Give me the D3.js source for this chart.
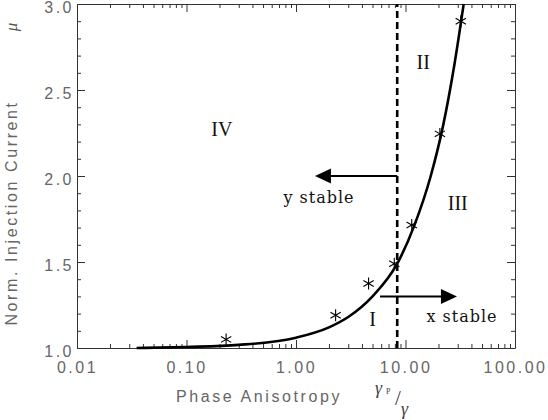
<!DOCTYPE html>
<html>
<head>
<meta charset="utf-8">
<script src="https://cdn.jsdelivr.net/npm/d3@7"></script>
<style>
  html, body { margin: 0; padding: 0; background: #fff; }
  svg { display: block; }
  .tick-label { font-family: "Liberation Sans", sans-serif; font-size: 16px; letter-spacing: 2.5px; fill: #666; }
  .axis-title { font-family: "Liberation Sans", sans-serif; font-size: 16px; letter-spacing: 2.6px; fill: #666; }
  .region { font-family: "Liberation Serif", serif; font-size: 20px; fill: #111; }
  .arrow-label { font-family: "DejaVu Serif", serif; font-size: 16px; letter-spacing: 1px; fill: #111; }
</style>
</head>
<body>
<svg id="chart" width="548" height="420"></svg>
<script>
// Stability boundary: normalised injection current vs. phase anisotropy gamma_p/gamma
const curveRatio = [0.035, 0.1, 0.3, 1, 2, 3, 5, 8.4, 12, 17, 22, 28, 34];
const curveMu    = [1.00, 1.006, 1.018, 1.06, 1.12, 1.18, 1.30, 1.49, 1.71, 2.00, 2.29, 2.65, 3.00];

// Measured points (asterisks)
const starRatio = [0.23, 2.3, 4.6, 7.9, 11.4, 20.6, 32];
const starMu    = [1.05, 1.19, 1.375, 1.49, 1.715, 2.245, 2.90];

// Vertical stability limit
const limitRatio = 8.4;

// Arrows: [from ratio, to ratio, mu]
const yStableArrow = [8.4, 1.49, 2.0];
const xStableArrow = [5.85, 29.5, 1.3];

// Axis ticks
const xTicks = [0.01, 0.1, 1, 10, 100];
const xTickLabels = ["0.01", "0.10", "1.00", "10.00", "100.00"];
const yTicks = [1.0, 1.5, 2.0, 2.5, 3.0];
const yTickLabels = ["1.0", "1.5", "2.0", "2.5", "3.0"];

// Region labels
const regionNames = ["IV", "II", "I", "III"];
const regionRatio = [0.21, 14.5, 5.0, 30];
const regionMu    = [2.235, 2.625, 1.13, 1.8];

const svg = d3.select("#chart");
const plotLeft = 77, plotRight = 515, plotTop = 4, plotBottom = 348;

const x = d3.scaleLog().domain([0.01, 100]).range([plotLeft, plotRight]);
const y = d3.scaleLinear().domain([1, 3]).range([plotBottom, plotTop]);

const minorX = [];
for (let e = -2; e < 2; e++) {
  for (let m = 2; m <= 9; m++) minorX.push(m * Math.pow(10, e));
}
const minorY = d3.range(1.0, 3.0001, 0.1).map(v => +v.toFixed(1)).filter(v => !yTicks.includes(v));

function styleAxis(g) {
  g.selectAll("path.domain").attr("stroke", "#333").attr("stroke-width", 1);
  g.selectAll(".tick line").attr("stroke", "#333").attr("stroke-width", 1);
}
function plainLabels(g) {
  g.selectAll("text").attr("class", "tick-label")
    .attr("font-size", null).attr("font-family", null).attr("fill", null);
}

// Bottom axis with labels
svg.append("g").attr("transform", `translate(0,${plotBottom})`)
  .call(d3.axisBottom(x).tickValues(xTicks).tickSizeInner(-8).tickSizeOuter(0).tickPadding(14)
    .tickFormat((d, i) => xTickLabels[i]))
  .call(styleAxis).call(plainLabels);
svg.append("g").attr("transform", `translate(0,${plotBottom})`)
  .call(d3.axisBottom(x).tickValues(minorX).tickSizeInner(-4).tickSizeOuter(0).tickFormat(""))
  .call(styleAxis).call(g => g.select(".domain").remove());

// Top axis
svg.append("g").attr("transform", `translate(0,${plotTop})`)
  .call(d3.axisTop(x).tickValues(xTicks).tickSizeInner(-8).tickSizeOuter(0).tickFormat(""))
  .call(styleAxis);
svg.append("g").attr("transform", `translate(0,${plotTop})`)
  .call(d3.axisTop(x).tickValues(minorX).tickSizeInner(-4).tickSizeOuter(0).tickFormat(""))
  .call(styleAxis).call(g => g.select(".domain").remove());

// Left axis with labels
svg.append("g").attr("transform", `translate(${plotLeft},0)`)
  .call(d3.axisLeft(y).tickValues(yTicks).tickSizeInner(-8).tickSizeOuter(0).tickPadding(3)
    .tickFormat((d, i) => yTickLabels[i]))
  .call(styleAxis).call(plainLabels)
  .call(g => g.selectAll("text").attr("dy", "0.55em"));
svg.append("g").attr("transform", `translate(${plotLeft},0)`)
  .call(d3.axisLeft(y).tickValues(minorY).tickSizeInner(-4).tickSizeOuter(0).tickFormat(""))
  .call(styleAxis).call(g => g.select(".domain").remove());

// Right axis
svg.append("g").attr("transform", `translate(${plotRight},0)`)
  .call(d3.axisRight(y).tickValues(yTicks).tickSizeInner(-8).tickSizeOuter(0).tickFormat(""))
  .call(styleAxis);
svg.append("g").attr("transform", `translate(${plotRight},0)`)
  .call(d3.axisRight(y).tickValues(minorY).tickSizeInner(-4).tickSizeOuter(0).tickFormat(""))
  .call(styleAxis).call(g => g.select(".domain").remove());

// Axis titles
svg.append("text").attr("class", "axis-title")
  .attr("x", 259).attr("y", 402).attr("text-anchor", "middle")
  .text("Phase Anisotropy");

const gam = svg.append("g").attr("font-family", "Liberation Serif, serif").attr("font-style", "italic").attr("fill", "#444");
gam.append("text").attr("x", 375).attr("y", 394).attr("font-size", 18).text("γ");
gam.append("text").attr("x", 386).attr("y", 394).attr("font-size", 8).attr("font-style", "normal").text("P");
gam.append("text").attr("x", 395).attr("y", 405).attr("font-size", 21).attr("font-style", "normal").text("/");
gam.append("text").attr("x", 401).attr("y", 415).attr("font-size", 18).text("γ");

svg.append("text").attr("class", "axis-title")
  .attr("transform", "translate(17,213) rotate(-90)")
  .attr("text-anchor", "middle")
  .text("Norm. Injection Current");
svg.append("text")
  .attr("transform", "translate(17,27) rotate(-90)")
  .attr("text-anchor", "middle")
  .attr("font-family", "Liberation Serif, serif").attr("font-style", "italic")
  .attr("font-size", 17).attr("fill", "#555")
  .text("μ");

// Vertical stability limit (dashed)
svg.append("line")
  .attr("x1", x(limitRatio)).attr("x2", x(limitRatio))
  .attr("y1", y(1)).attr("y2", y(3))
  .attr("stroke", "#000").attr("stroke-width", 2.6).attr("stroke-dasharray", "7,4");

// Boundary curve
const curvePts = curveRatio.map((r, i) => [r, curveMu[i]]);
svg.append("path")
  .datum(curvePts)
  .attr("fill", "none").attr("stroke", "#000").attr("stroke-width", 2.6)
  .attr("d", d3.line().x(d => x(d[0])).y(d => y(d[1])).curve(d3.curveMonotoneX));

// Measured points
const star = d3.symbol().type(d3.symbolAsterisk).size(100);
svg.append("g").selectAll("path")
  .data(starRatio.map((r, i) => [r, starMu[i]]))
  .join("path")
  .attr("transform", d => `translate(${x(d[0])},${y(d[1])})`)
  .attr("d", star)
  .attr("fill", "none").attr("stroke", "#000").attr("stroke-width", 1.1);

// Arrows
function arrow(a) {
  const x1 = x(a[0]), x2 = x(a[1]), yy = y(a[2]);
  const dir = Math.sign(x2 - x1);
  const len = 16, half = 7.5;
  svg.append("line")
    .attr("x1", x1).attr("x2", x2 - dir * len + dir * 1)
    .attr("y1", yy).attr("y2", yy)
    .attr("stroke", "#000").attr("stroke-width", 2);
  svg.append("path")
    .attr("d", `M${x2},${yy} L${x2 - dir * len},${yy - half} L${x2 - dir * len},${yy + half} Z`)
    .attr("fill", "#000");
}
arrow(yStableArrow);
arrow(xStableArrow);

svg.append("text").attr("class", "arrow-label")
  .attr("x", x(yStableArrow[1]) + 4).attr("y", y(yStableArrow[2]) + 27)
  .attr("text-anchor", "middle").text("y stable");
svg.append("text").attr("class", "arrow-label")
  .attr("x", x(xStableArrow[1]) + 5).attr("y", y(xStableArrow[2]) + 26)
  .attr("text-anchor", "middle").text("x stable");

// Region labels
svg.append("g").selectAll("text")
  .data(regionNames)
  .join("text")
  .attr("class", "region")
  .attr("x", (d, i) => x(regionRatio[i]))
  .attr("y", (d, i) => y(regionMu[i]))
  .attr("text-anchor", "middle")
  .text(d => d);
</script>
</body>
</html>
